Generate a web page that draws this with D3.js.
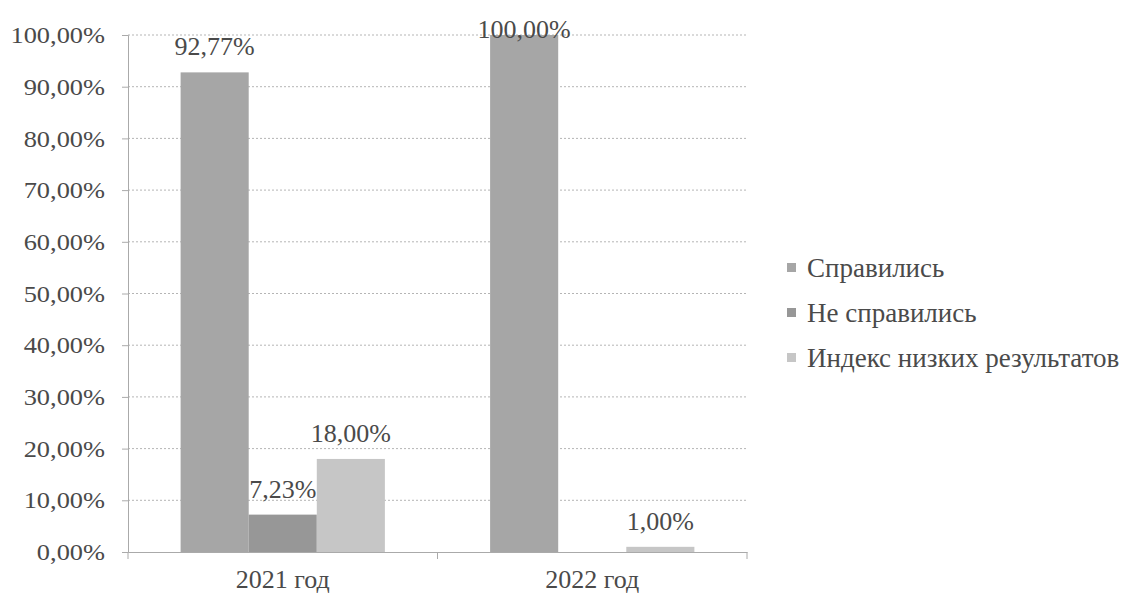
<!DOCTYPE html>
<html>
<head>
<meta charset="utf-8">
<script src="https://cdn.jsdelivr.net/npm/d3@7"></script>
<style>
  html, body { margin: 0; padding: 0; background: #fff; }
  svg { display: block; }
</style>
</head>
<body>
<svg id="chart" width="1122" height="597"></svg>
<script>
const categories = ["2021 год", "2022 год"];
const seriesNames = ["Справились", "Не справились", "Индекс низких результатов"];
const spravilis = [92.77, 100.00];
const neSpravilis = [7.23, 0.00];
const indexNizkih = [18.00, 1.00];
const yTicks = [0, 10, 20, 30, 40, 50, 60, 70, 80, 90, 100];
const colors = ["#a6a6a6", "#979797", "#c6c6c6"];

const FONT = "'Liberation Serif', 'Times New Roman', Times, 'DejaVu Serif', serif";
const TXT = "#4a4a4a";
const seriesValues = [spravilis, neSpravilis, indexNizkih];
const fmt = v => v.toFixed(2).replace(".", ",") + "%";

const svg = d3.select("#chart");
const margin = { left: 128, right: 747, top: 35, bottom: 552 };

const x0 = d3.scaleBand().domain(categories).range([margin.left, margin.right])
  .paddingInner(0.34).paddingOuter(0.17);
const x1 = d3.scaleBand().domain(seriesNames).range([0, x0.bandwidth()]).padding(0);
const y = d3.scaleLinear().domain([0, 100]).range([margin.bottom, margin.top]);

// gridlines
svg.append("g").selectAll("line").data(yTicks.filter(t => t > 0)).join("line")
  .attr("x1", margin.left).attr("x2", margin.right)
  .attr("y1", d => y(d)).attr("y2", d => y(d))
  .attr("stroke", "#b5b5b5").attr("stroke-width", 1).attr("stroke-dasharray", "2,2");

// bars
const groups = svg.append("g").selectAll("g").data(categories).join("g")
  .attr("transform", c => `translate(${x0(c)},0)`);
groups.selectAll("rect")
  .data((c, ci) => seriesNames.map((s, si) => ({ s, si, v: seriesValues[si][ci] })))
  .join("rect")
  .attr("x", d => x1(d.s)).attr("width", x1.bandwidth())
  .attr("y", d => y(d.v)).attr("height", d => y(0) - y(d.v))
  .attr("fill", d => colors[d.si]);

// data labels
groups.selectAll("text.lbl")
  .data((c, ci) => seriesNames.map((s, si) => ({ s, si, v: seriesValues[si][ci] })).filter(d => d.v > 0))
  .join("text").attr("class", "lbl")
  .attr("x", d => x1(d.s) + x1.bandwidth() / 2)
  .attr("y", d => Math.max(y(d.v) - 17, 38))
  .attr("text-anchor", "middle")
  .style("font-family", FONT).style("font-size", "26px").style("fill", TXT)
  .text(d => fmt(d.v));

// y axis
const yAxis = d3.axisLeft(y).tickValues(yTicks).tickSize(6).tickPadding(5).tickFormat(fmt);
const gy = svg.append("g").attr("transform", `translate(${margin.left},0)`).call(yAxis);
gy.select(".domain").attr("stroke", "#aaa");
gy.selectAll(".tick line").attr("stroke", "#aaa");
gy.selectAll(".tick text")
  .style("font-family", FONT).style("font-size", "24px").style("fill", TXT)
  .attr("transform", "scale(1.1,1)").attr("x", -23 / 1.1);

// x axis
const xAxis = d3.axisBottom(x0).tickSize(0).tickPadding(18);
const gx = svg.append("g").attr("transform", `translate(0,${margin.bottom})`).call(xAxis);
gx.select(".domain").attr("stroke", "#aaa");
gx.selectAll(".tick text")
  .style("font-family", FONT).style("font-size", "26px").style("fill", TXT);
const bounds = [margin.left, (margin.left + margin.right) / 2, margin.right];
gx.selectAll("line.bt").data(bounds).join("line").attr("class", "bt")
  .attr("x1", d => d).attr("x2", d => d).attr("y1", 0).attr("y2", 7)
  .attr("stroke", "#aaa");

// legend
const legend = svg.append("g").attr("transform", "translate(787,0)");
const li = legend.selectAll("g").data(seriesNames).join("g")
  .attr("transform", (d, i) => `translate(0,${277 + i * 45})`);
li.append("rect").attr("x", 0).attr("y", -14).attr("width", 9).attr("height", 9)
  .attr("fill", (d, i) => colors[i]);
li.append("text").attr("x", 20).attr("y", 0)
  .style("font-family", FONT).style("font-size", "27px").style("fill", TXT)
  .text(d => d);
</script>
</body>
</html>
